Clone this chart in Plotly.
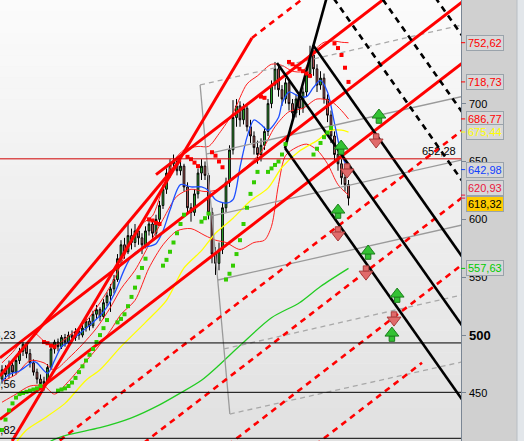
import plotly.graph_objects as go

# ---------------- data ----------------
bar_index = list(range(100))
open_ = [462,470,466,474,468,478,486,492,484,476, 468,462,458,460,472,488,494,490,498,494,
         500,498,503,500,506,512,508,518,522,516, 528,534,540,548,566,578,572,586,580,590,
         584,578,590,596,588,600,612,626,640,648, 650,642,646,628,610,606,622,640,646,638,
         606,570,562,574,610,632,660,688,698,686, 696,680,672,662,656,664,676,700,716,730,
         712,704,718,700,692,704,696,710,726,742, 730,716,722,704,690,672,656,648,636,630]
high = [474,474,478,477,481,489,494,493,488,479, 471,466,464,475,490,496,497,500,501,503,
        504,506,506,509,516,515,521,526,524,531, 537,544,552,570,582,584,598,592,596,594,
        588,594,600,598,604,616,630,644,652,656, 654,652,648,632,614,626,644,652,650,640,
        610,576,580,614,636,664,703,704,702,700, 698,686,676,668,670,680,704,720,736,732,
        716,722,720,704,708,708,714,730,750,746, 734,728,726,708,694,676,664,652,644,634]
low = [458,462,463,464,466,475,482,480,472,465, 458,453,452,458,470,484,486,488,490,491,
       494,495,496,498,503,504,506,514,512,514, 525,520,536,546,562,566,570,574,576,578,
       570,575,586,582,585,597,609,622,636,642, 638,638,624,606,598,603,618,634,634,600,
       562,552,556,570,606,628,656,680,680,682, 676,666,656,648,650,660,672,696,712,706,
       698,700,694,686,688,690,692,706,722,724, 710,712,700,684,666,650,642,630,624,612]
close = [470,466,474,468,478,486,492,484,476,468, 462,458,460,472,488,494,490,498,494,500,
         498,503,500,506,512,508,518,522,516,528, 534,540,548,566,578,572,586,580,590,584,
         578,590,596,588,600,612,626,640,648,650, 642,646,628,610,606,622,640,646,638,606,
         570,562,574,610,632,660,688,698,686,696, 680,672,662,656,664,676,700,716,730,712,
         704,718,700,692,704,696,710,726,742,730, 716,722,704,690,672,656,648,636,630,618.32]

# fast moving average (blue)
blue_x = [0,2,5,9,10,13,15,17,19,22,26,29,32,35,37,40,44,46,48,51,54,57,59,61,64,66,68,70,72,74,76,79,80,82,85,87,89,91,93,95,97,99]
blue_y = [460,466,469,477,476,467,478,490,494,501,511,520,535,557,568,575,579,590,608,630,628,628,625,617,614,617,645,671,686,682,677,688,700,710,706,706,714,720,710,683,656,642.98]
# envelope bands (thin red)
upper_x = [0,3,6,9,12,15,19,24,28,32,36,40,43,46,49,52,56,59,62,66,70,73,77,80,83,86,89,92,95,97,99]
upper_y = [476,485,496,502,495,491,499,512,528,548,575,596,603,628,650,660,663,663,674,692,717,724,734,733,728,728,745,753,754,753,752.62]
middle_x = [0,4,8,12,15,19,23,27,31,34,38,42,46,50,54,58,62,66,70,74,78,82,86,90,94,97,99]
middle_y = [460,466,478,476,470,480,492,506,524,540,556,578,600,620,626,624,626,636,646,658,680,693,696,704,702,694,686.77]
lower_x = [0,4,8,12,15,19,23,27,31,34,38,42,46,50,54,58,61,64,68,72,75,77,79,81,84,87,90,93,96,99]
lower_y = [442,449,456,456,449,460,474,488,504,518,530,558,578,590,592,586,582,580,574,580,582,594,630,655,662,665,660,648,630,620.93]
# medium moving average (yellow)
yellow_x = [4,7,12,18,24,28,34,41,47,52,57,61,66,71,76,80,85,90,94,97,99]
yellow_y = [407,418,428,441,461,470,490,511,530,558,573,588,601,616,627,645,659,668,677,677,675.44]
# long moving average (green)
green_x = [13,14,19,28,37,45,51,57,62,68,77,85,91,99]
green_y = [406,408.5,414,420,428.5,439.7,450,461,474,491,515,528,542,557.63]

# parabolic SAR
sar_up_x = [0,1,2,3,4,5,6,7,8,9,10,11, 16,17,18,19,20,21,22,23,24,25,26,27,28,29,30,
            33,34,35,36,37,38,39,40,41, 46,47,48,49,50,51,52, 57,58,59,
            64,65,66,67,68,69,70,71,72,73, 76,77,78,79,80,81, 89,90,91,92,93,94]
sar_up_y = [418,427,435,441,446,449,450,451,452,453,454,456, 452,453,454,456,459,463,468,473,478,483,488,494,500,506,513,
            511,514,518,525,533,541,550,558,566, 560,565,572,580,588,596,604, 598,601,605,
            548,553,560,570,582,596,610,622,632,641, 641,644,647,650,656,665, 656,661,666,671,675,679]
sar_dn_x = [12,13,14,15, 42,43,44,45, 53,54,55,56, 60,61,62,63, 74,75, 82,83,84,85,86,87,88, 95,96,97,98,99]
sar_dn_y = [494,493,491,490, 600,599,597,596, 654,652,649,646, 658,655,650,645, 706,705,
            736,734,732,730,728,726,724, 752,748,742,731,718.73]

# drawn trend lines (bar index, price)
red_solid_x = [[2.9, 71.4], [-0.6, 51.0], [44.0, 115.0], [-0.6, 131.4], [-0.6, 131.4]]
red_solid_y = [[408.5, 756.7], [464.7, 651.3], [638.6, 804.0], [480.3, 787.6], [427.2, 734.7]]
red_dash_x = [[71.4, 100.0], [14.0, 131.4], [38.0, 131.4], [62.0, 131.4], [87.0, 120.0]]
red_dash_y = [[756.7, 823.3], [403.1, 676.7], [401.0, 618.7], [399.0, 560.7], [399.2, 476.1]]
black_solid_x = [[80.86, 131.4], [78.57, 131.4], [88.86, 131.4], [80.86, 94.0]]
black_solid_y = [[661.6, 444.5], [735.1, 508.4], [750.6, 568.0], [661.6, 805.0]]
black_dash_x = [[93.0, 131.4], [107.0, 131.4], [122.0, 131.4]]
black_dash_y = [[798.5, 633.6], [797.7, 692.9], [799.4, 759.0]]
gray_solid_x = [[56.6, 65.1], [58.3, 131.4], [60.0, 131.4], [61.7, 131.4]]
gray_solid_y = [[716.1, 431.8], [656.4, 706.1], [602.9, 651.3], [547.6, 595.1]]
gray_dash_x = [[56.6, 131.4], [63.4, 131.4], [65.1, 131.4]]
gray_dash_y = [[716.1, 767.9], [488.0, 534.7], [431.8, 476.8]]

# horizontal levels
black_levels = [493.23, 450.56, 410.82]
black_level_text = ["493,23", "450,56", "410,82"]
red_level = 652.28
red_level_text = "652,28"

# signal arrows
up_x = [107.7, 96.9, 96.0, 104.6, 112.9, 111.4]
up_y = [688.4, 661.6, 606.3, 570.9, 533.7, 500.0]
down_x = [106.9, 98.6, 96.0, 104.0, 112.0]
down_y = [668.5, 642.6, 588.2, 554.4, 514.7]

# right axis
axis_ticks = [450, 500, 550, 600, 650, 700]
box_values = [752.62, 718.73, 686.77, 675.44, 642.98, 620.93, 618.32, 557.63]
box_text = ["752,62", "718,73", "686,77", "675,44", "642,98", "620,93", "618,32", "557,63"]
box_fg = ["#ff0000", "#ff0000", "#ff0000", "#ffff00", "#1040ff", "#e8173c", "#000000", "#00cc00"]
box_bg = ["#d8d8d8", "#d8d8d8", "#d8d8d8", "#d8d8d8", "#d8d8d8", "#d8d8d8", "#ffcc00", "#d8d8d8"]
box_shift = [0, 0, 0, 0, 0, 7, -6, 0]

# ---------------- figure ----------------
W, H, PLOT_W = 524, 441, 461
YR = [408.5, 789.51]
XR = [-0.571, 131.143]
fig = go.Figure()

fig.add_trace(go.Candlestick(
    x=bar_index, open=open_, high=high, low=low, close=close,
    increasing=dict(fillcolor="#33cc33", line=dict(color="black", width=1)),
    decreasing=dict(fillcolor="#e06868", line=dict(color="black", width=1)),
    whiskerwidth=0, showlegend=False, hoverinfo="skip"))

def line(x, y, color, width=1, dash="solid", shape="linear"):
    fig.add_trace(go.Scatter(x=x, y=y, mode="lines", showlegend=False, hoverinfo="skip",
                             line=dict(color=color, width=width, dash=dash, shape=shape,
                                       smoothing=0.8 if shape == "spline" else None)))

line(upper_x, upper_y, "#ff2020", 1, shape="spline")
line(middle_x, middle_y, "#ff2020", 1, shape="spline")
line(lower_x, lower_y, "#ff2020", 1, shape="spline")
line(yellow_x, yellow_y, "#ffff00", 1.3, shape="spline")
line(green_x, green_y, "#22cc22", 1.3, shape="spline")
line(blue_x, blue_y, "#1e50ff", 1.3, shape="spline")

for xs, ys in zip(gray_solid_x, gray_solid_y):
    line(xs, ys, "#9a9a9a", 1.3)
for xs, ys in zip(gray_dash_x, gray_dash_y):
    line(xs, ys, "#a8a8a8", 1.3, dash="5px,4px")
for xs, ys in zip(red_solid_x, red_solid_y):
    line(xs, ys, "#ff0000", 3)
for xs, ys in zip(red_dash_x, red_dash_y):
    line(xs, ys, "#ff0000", 2.6, dash="6px,5px")
for xs, ys in zip(black_solid_x, black_solid_y):
    line(xs, ys, "#000000", 2.6)
for xs, ys in zip(black_dash_x, black_dash_y):
    line(xs, ys, "#000000", 2.6, dash="6px,5px")

fig.add_trace(go.Scatter(x=sar_up_x, y=sar_up_y, mode="markers", showlegend=False, hoverinfo="skip",
                         marker=dict(symbol="square", size=4, color="#33cc00", line=dict(width=0))))
fig.add_trace(go.Scatter(x=sar_dn_x, y=sar_dn_y, mode="markers", showlegend=False, hoverinfo="skip",
                         marker=dict(symbol="square", size=4, color="#ff0000", line=dict(width=0))))

# arrows: head + stem
px_per_unit = H / (YR[1] - YR[0])
def arrows(xs, ys, up, fill, edge):
    head_off = 2 / px_per_unit
    stem_off = 3.5 / px_per_unit
    hy = [v + head_off if up else v - head_off for v in ys]
    sy = [v - stem_off if up else v + stem_off for v in ys]
    fig.add_trace(go.Scatter(x=xs, y=sy, mode="markers", showlegend=False, hoverinfo="skip",
                             marker=dict(symbol="square", size=5.5, color=fill, line=dict(color=edge, width=1))))
    fig.add_trace(go.Scatter(x=xs, y=hy, mode="markers", showlegend=False, hoverinfo="skip",
                             marker=dict(symbol="triangle-up" if up else "triangle-down", size=12,
                                         color=fill, line=dict(color=edge, width=1))))
arrows(up_x, up_y, True, "#33c233", "#1d7f1d")
arrows(down_x, down_y, False, "#e06a6a", "#a83a3a")

shapes = []
# plot background gradient
n = 40
for k in range(n):
    t = k / (n - 1)
    c = int(round(251 - 26 * t))
    shapes.append(dict(type="rect", xref="paper", yref="paper", x0=0, x1=1,
                       y0=1 - (k + 1) / n, y1=1 - k / n, fillcolor=f"rgb({c},{c},{c})",
                       line=dict(width=0), layer="below"))
# right edge strip
shapes.append(dict(type="rect", xref="paper", yref="paper", x0=517 / PLOT_W, x1=530 / PLOT_W,
                   y0=0, y1=1, fillcolor="#e2e6ea", line=dict(width=0), layer="below"))
shapes.append(dict(type="line", xref="paper", yref="paper", x0=517 / PLOT_W, x1=517 / PLOT_W,
                   y0=0, y1=1, line=dict(color="#b8bec4", width=1)))
for lv in black_levels:
    shapes.append(dict(type="line", xref="paper", yref="y", x0=0, x1=1, y0=lv, y1=lv,
                       line=dict(color="black", width=1)))
shapes.append(dict(type="line", xref="paper", yref="y", x0=0, x1=1, y0=red_level, y1=red_level,
                   line=dict(color="#d00000", width=1)))
for v, col in zip(box_values, box_fg):
    shapes.append(dict(type="line", xref="paper", yref="y", x0=1.0, x1=1.009, y0=v, y1=v,
                       line=dict(color=col if col != "#000000" else "#e8173c", width=1)))

annotations = []
for lv, txt in zip(black_levels, black_level_text):
    annotations.append(dict(xref="paper", yref="y", x=18 / PLOT_W, y=lv, xanchor="right", yanchor="bottom",
                            text=txt, showarrow=False, font=dict(family="Liberation Sans, Arial", size=11, color="black")))
annotations.append(dict(xref="paper", yref="y", x=458 / PLOT_W, y=red_level, xanchor="right", yanchor="bottom",
                        text=red_level_text, showarrow=False,
                        font=dict(family="Liberation Sans, Arial", size=11, color="black")))
for v in axis_ticks:
    bold = v == 500
    annotations.append(dict(xref="paper", yref="y", x=467 / PLOT_W, y=v, xanchor="left", yanchor="middle",
                            text=f"<b>{v}</b>" if bold else str(v), showarrow=False,
                            font=dict(family="Liberation Sans, Arial", size=13 if bold else 11, color="black")))
for v, txt, fg, bg, sh in zip(box_values, box_text, box_fg, box_bg, box_shift):
    annotations.append(dict(xref="paper", yref="y", x=466 / PLOT_W, y=v, xanchor="left", yanchor="middle",
                            yshift=sh, text=txt, showarrow=False, bgcolor=bg, bordercolor="#9aa3ab",
                            borderwidth=1, borderpad=1,
                            font=dict(family="Liberation Sans, Arial", size=11, color=fg)))

fig.update_layout(
    width=W, height=H, margin=dict(l=0, r=W - PLOT_W, t=0, b=0, pad=0),
    paper_bgcolor="#d0d0d0", plot_bgcolor="#f0f0f0",
    shapes=shapes, annotations=annotations, showlegend=False,
    xaxis=dict(range=XR, showgrid=False, zeroline=False, showticklabels=False, showline=False,
               rangeslider=dict(visible=False), fixedrange=True),
    yaxis=dict(range=YR, side="right", showgrid=False, zeroline=False, showticklabels=False,
               ticks="outside", tickvals=axis_ticks, ticklen=4, tickcolor="#7a8694",
               showline=True, linecolor="#7a8694", linewidth=1, fixedrange=True),
)

fig.write_html("out.html", config={"displayModeBar": False},
               post_script="document.body.style.margin='0px';document.body.style.overflow='hidden';")
